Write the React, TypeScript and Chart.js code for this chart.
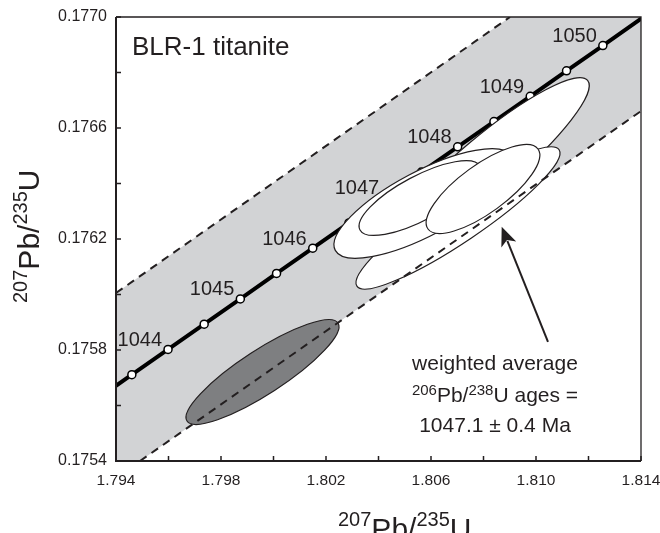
import React, { useEffect, useRef } from "react";
import { Chart, registerables } from "chart.js";

Chart.register(...registerables);

const FONT = "'Liberation Sans', Arial, Helvetica, sans-serif";
const INK = "#231f20";

// ---- axes ----
const xMin = 1.794;
const xMax = 1.814;
const yMin = 0.1754;
const yMax = 0.177;
const xMajorTicks = [1.794, 1.798, 1.802, 1.806, 1.81, 1.814];
const xMinorTicks = [1.796, 1.8, 1.804, 1.808, 1.812];
const yMajorTicks = [0.1754, 0.1758, 0.1762, 0.1766, 0.177];
const yMinorTicks = [0.1756, 0.176, 0.1764, 0.1768];

// ---- concordia ----
const curveX = [1.793228, 1.794604, 1.795982, 1.797359, 1.798737, 1.800116, 1.801495, 1.802874, 1.804254, 1.805635, 1.807016, 1.808398, 1.80978, 1.811163, 1.812547, 1.813925, 1.815316];
const curveY = [0.17562, 0.175711, 0.175802, 0.175893, 0.175984, 0.176076, 0.176167, 0.176258, 0.176349, 0.176441, 0.176532, 0.176623, 0.176714, 0.176806, 0.176897, 0.176989, 0.17708];
const markerAges = [1043.5, 1044, 1044.5, 1045, 1045.5, 1046, 1046.5, 1047, 1047.5, 1048, 1048.5, 1049, 1049.5, 1050];
const markerX = [1.794604, 1.795982, 1.797359, 1.798737, 1.800116, 1.801495, 1.802874, 1.804254, 1.805635, 1.807016, 1.808398, 1.80978, 1.811163, 1.812547];
const markerY = [0.175711, 0.175802, 0.175893, 0.175984, 0.176076, 0.176167, 0.176258, 0.176349, 0.176441, 0.176532, 0.176623, 0.176714, 0.176806, 0.176897];
const labelAges = [1044, 1045, 1046, 1047, 1048, 1049, 1050];

// ---- decay-constant error envelope ----
const upperX = [1.794, 1.80901];
const upperY = [0.1760054, 0.177];
const lowerX = [1.794914, 1.814];
const lowerY = [0.1754, 0.176661];

// ---- error ellipses: centre, major-axis tip, minor-axis tip ----
const ellipseCx = [1.799581, 1.808171, 1.807029, 1.805718, 1.805581, 1.807981];
const ellipseCy = [0.1757207, 0.1764703, 0.1762757, 0.176328, 0.1763477, 0.1763802];
const ellipseMajX = [1.802457, 1.811966, 1.81088, 1.809082, 1.807867, 1.810076];
const ellipseMajY = [0.1758973, 0.1767715, 0.1765215, 0.176497, 0.1764627, 0.1765243];
const ellipseMinX = [1.799124, 1.807486, 1.806518, 1.805147, 1.805189, 1.807444];
const ellipseMinY = [0.1757874, 0.1765474, 0.1763474, 0.17643, 0.1764177, 0.17645];
const ellipseExcluded = [true, false, false, false, false, false];

// ---- annotation ----
const arrowTail = [1.810457, 0.175829];
const arrowTip = [1.808693, 0.176244];
const noteAnchor = [1.808438, 0.175728];
const sampleName = "BLR-1 titanite";

type Part = { t: string; sup?: boolean };

function drawRich(ctx: CanvasRenderingContext2D, parts: Part[], x: number, y: number, align: "left" | "center", main: number, sup: number, raise: number) {
  const widths = parts.map((p) => {
    ctx.font = `${p.sup ? sup : main}px ${FONT}`;
    return ctx.measureText(p.t).width;
  });
  const total = widths.reduce((a, b) => a + b, 0);
  let cx = align === "center" ? x - total / 2 : x;
  ctx.textAlign = "left";
  ctx.textBaseline = "alphabetic";
  parts.forEach((p, i) => {
    ctx.font = `${p.sup ? sup : main}px ${FONT}`;
    ctx.fillText(p.t, cx, p.sup ? y - raise : y);
    cx += widths[i];
  });
}

const decorPlugin = {
  id: "decor",
  beforeDatasetsDraw(chart: any) {
    const { ctx, chartArea, scales } = chart;
    const P = (x: number, y: number) => [scales.x.getPixelForValue(x), scales.y.getPixelForValue(y)];
    const polyX = [upperX[0], upperX[1], xMax, lowerX[1], lowerX[0], xMin];
    const polyY = [upperY[0], upperY[1], yMax, lowerY[1], lowerY[0], yMin];
    ctx.save();
    ctx.beginPath();
    ctx.rect(chartArea.left, chartArea.top, chartArea.right - chartArea.left, chartArea.bottom - chartArea.top);
    ctx.clip();
    ctx.beginPath();
    polyX.forEach((vx, i) => {
      const [px, py] = P(vx, polyY[i]);
      if (i === 0) ctx.moveTo(px, py);
      else ctx.lineTo(px, py);
    });
    ctx.closePath();
    ctx.fillStyle = "#d2d3d5";
    ctx.fill();
    ctx.restore();
  },
  afterDatasetDraw(chart: any, args: any) {
    if (args.index !== 1) return;
    const { ctx, scales } = chart;
    const P = (x: number, y: number) => [scales.x.getPixelForValue(x), scales.y.getPixelForValue(y)];
    ctx.save();
    ellipseCx.forEach((cxv, i) => {
      const [cx, cy] = P(cxv, ellipseCy[i]);
      const [tx, ty] = P(ellipseMajX[i], ellipseMajY[i]);
      const [mx, my] = P(ellipseMinX[i], ellipseMinY[i]);
      const a = Math.hypot(tx - cx, ty - cy);
      const b = Math.hypot(mx - cx, my - cy);
      const rot = Math.atan2(ty - cy, tx - cx);
      ctx.beginPath();
      ctx.ellipse(cx, cy, a, b, rot, 0, Math.PI * 2);
      ctx.fillStyle = ellipseExcluded[i] ? "#7e7f81" : "#ffffff";
      ctx.fill();
      ctx.lineWidth = 1.2;
      ctx.strokeStyle = INK;
      ctx.stroke();
    });
    ctx.restore();
  },
  afterDatasetsDraw(chart: any) {
    const { ctx, chartArea, scales } = chart;
    const P = (x: number, y: number) => [scales.x.getPixelForValue(x), scales.y.getPixelForValue(y)];
    const { left, right, top, bottom } = chartArea;
    ctx.save();
    ctx.strokeStyle = INK;
    ctx.fillStyle = INK;
    // frame
    ctx.lineWidth = 1.3;
    ctx.beginPath();
    ctx.moveTo(left, top);
    ctx.lineTo(right, top);
    ctx.lineTo(right, bottom);
    ctx.stroke();
    ctx.lineWidth = 2;
    ctx.beginPath();
    ctx.moveTo(left, top);
    ctx.lineTo(left, bottom);
    ctx.lineTo(right, bottom);
    ctx.stroke();
    // inward ticks
    ctx.lineWidth = 1.5;
    ctx.beginPath();
    [...xMajorTicks, ...xMinorTicks].forEach((v) => {
      const px = scales.x.getPixelForValue(v);
      ctx.moveTo(px, bottom);
      ctx.lineTo(px, bottom - 5);
    });
    [...yMajorTicks, ...yMinorTicks].forEach((v) => {
      const py = scales.y.getPixelForValue(v);
      ctx.moveTo(left, py);
      ctx.lineTo(left + 5, py);
    });
    ctx.stroke();

    // age labels
    ctx.font = `20px ${FONT}`;
    ctx.textAlign = "right";
    ctx.textBaseline = "alphabetic";
    labelAges.forEach((age) => {
      const i = markerAges.indexOf(age);
      const [px, py] = P(markerX[i], markerY[i]);
      ctx.fillText(String(age), px - 6, py - 3.5);
    });

    // sample name
    ctx.font = `26px ${FONT}`;
    ctx.textAlign = "left";
    ctx.fillText(sampleName, left + 16, top + 38);

    // arrow
    const [ax0, ay0] = P(arrowTail[0], arrowTail[1]);
    const [ax1, ay1] = P(arrowTip[0], arrowTip[1]);
    const len = Math.hypot(ax1 - ax0, ay1 - ay0);
    const ux = (ax1 - ax0) / len;
    const uy = (ay1 - ay0) / len;
    const hl = 19;
    const hw = 8;
    ctx.lineWidth = 2;
    ctx.beginPath();
    ctx.moveTo(ax0, ay0);
    ctx.lineTo(ax1 - ux * hl * 0.8, ay1 - uy * hl * 0.8);
    ctx.stroke();
    ctx.beginPath();
    ctx.moveTo(ax1, ay1);
    ctx.lineTo(ax1 - ux * hl - uy * hw, ay1 - uy * hl + ux * hw);
    ctx.lineTo(ax1 - ux * hl * 0.75, ay1 - uy * hl * 0.75);
    ctx.lineTo(ax1 - ux * hl + uy * hw, ay1 - uy * hl - ux * hw);
    ctx.closePath();
    ctx.fill();

    // weighted average note
    const [nx, ny] = P(noteAnchor[0], noteAnchor[1]);
    ctx.font = `21px ${FONT}`;
    ctx.textAlign = "center";
    ctx.fillText("weighted average", nx, ny);
    drawRich(ctx, [{ t: "206", sup: true }, { t: "Pb/" }, { t: "238", sup: true }, { t: "U ages =" }], nx, ny + 31.7, "center", 21, 15, 7);
    ctx.font = `21px ${FONT}`;
    ctx.textAlign = "center";
    ctx.fillText("1047.1 \u00b1 0.4 Ma", nx, ny + 61.7);

    // axis titles
    drawRich(ctx, [{ t: "207", sup: true }, { t: "Pb/" }, { t: "235", sup: true }, { t: "U" }], 338, 539, "left", 30, 20, 13);
    ctx.save();
    ctx.translate(38.5, 303);
    ctx.rotate(-Math.PI / 2);
    drawRich(ctx, [{ t: "207", sup: true }, { t: "Pb/" }, { t: "235", sup: true }, { t: "U" }], 0, 0, "left", 30, 20, 12);
    ctx.restore();
    ctx.restore();
  },
};

export default function App() {
  const ref = useRef<HTMLCanvasElement | null>(null);
  useEffect(() => {
    document.body.style.margin = "0";
    const canvas = ref.current;
    if (!canvas) return;
    const chart = new Chart(canvas, {
      type: "scatter",
      data: {
        datasets: [
          {
            data: curveX.map((x, i) => ({ x, y: curveY[i] })),
            showLine: true,
            borderColor: "#000000",
            borderWidth: 4,
            pointRadius: 0,
            clip: 0,
            order: 4,
          },
          {
            data: markerX.map((x, i) => ({ x, y: markerY[i] })),
            showLine: false,
            pointRadius: 4,
            pointBorderWidth: 1.5,
            pointBackgroundColor: "#ffffff",
            pointBorderColor: "#000000",
            order: 3,
          },
          {
            data: upperX.map((x, i) => ({ x, y: upperY[i] })),
            showLine: true,
            borderColor: INK,
            borderWidth: 2,
            borderDash: [8, 6],
            pointRadius: 0,
            clip: 0,
            order: 1,
          },
          {
            data: lowerX.map((x, i) => ({ x, y: lowerY[i] })),
            showLine: true,
            borderColor: INK,
            borderWidth: 2,
            borderDash: [8, 6],
            pointRadius: 0,
            clip: 0,
            order: 1,
          },
        ],
      } as any,
      options: {
        animation: false,
        responsive: false,
        devicePixelRatio: 1,
        events: [],
        layout: { padding: { top: 17, right: 19, left: 0, bottom: 0 } },
        plugins: { legend: { display: false }, tooltip: { enabled: false } },
        scales: {
          x: {
            type: "linear",
            min: xMin,
            max: xMax,
            grid: { display: false, drawTicks: false },
            border: { display: false },
            afterBuildTicks: (s: any) => {
              s.ticks = xMajorTicks.map((v) => ({ value: v }));
            },
            afterFit: (s: any) => {
              s.height = 72;
              s.paddingLeft = 0;
              s.paddingRight = 0;
            },
            ticks: {
              autoSkip: false,
              maxRotation: 0,
              padding: 10,
              color: INK,
              font: { family: FONT, size: 15.5 },
              callback: (v: any) => Number(v).toFixed(3),
            },
          },
          y: {
            type: "linear",
            min: yMin,
            max: yMax,
            grid: { display: false, drawTicks: false },
            border: { display: false },
            afterBuildTicks: (s: any) => {
              s.ticks = yMajorTicks.map((v) => ({ value: v }));
            },
            afterFit: (s: any) => {
              s.width = 116;
              s.paddingTop = 0;
              s.paddingBottom = 0;
            },
            ticks: {
              autoSkip: false,
              padding: 9,
              color: INK,
              font: { family: FONT, size: 16 },
              callback: (v: any) => Number(v).toFixed(4),
            },
          },
        },
      } as any,
      plugins: [decorPlugin],
    });
    return () => chart.destroy();
  }, []);
  return (
    <div style={{ width: 660, height: 533, background: "#ffffff" }}>
      <canvas ref={ref} width={660} height={533} style={{ display: "block" }} />
    </div>
  );
}
